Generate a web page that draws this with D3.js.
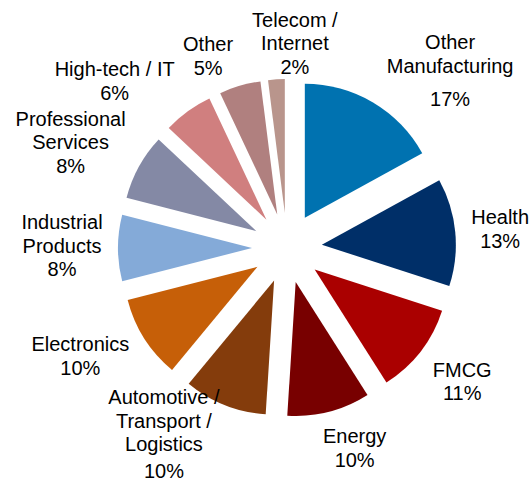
<!DOCTYPE html>
<html>
<head>
<meta charset="utf-8">
<script src="https://cdn.jsdelivr.net/npm/d3@7"></script>
<style>
  html, body { margin: 0; padding: 0; background: #fff; }
  svg { display: block; }
  text { font-family: "Liberation Sans", Arial, sans-serif; font-size: 20px; fill: #000; }
</style>
</head>
<body>
<div id="chart"></div>
<script>
// Sector shares (%), clockwise from 12 o'clock
const sectors = [
  "Other\nManufacturing", "Health", "FMCG", "Energy",
  "Automotive /\nTransport /\nLogistics", "Electronics", "Industrial\nProducts",
  "Professional\nServices", "High-tech / IT", "Other", "Telecom /\nInternet"
];
const shares = [17, 13, 11, 10, 10, 10, 8, 8, 6, 5, 2];
const colors = [
  "#0072B0", "#002F68", "#AA0000", "#780000", "#843C0C", "#C65F08",
  "#84AAD8", "#8489A5", "#D07F7F", "#B0807F", "#B9958C"
];

// Label placement: angular shift (deg) from the slice's mid-angle, distance from centre,
// and extra gap before the percentage line
const labelShift = [12.0, 0.3, -0.6, -4.3, 11.9, 4.9, 0.6, -2.7, -9.9, -6.1, 5.8];
const labelDist  = [241, 214, 220, 211, 223, 233, 225, 241, 240, 208, 205];
const pctGap     = [10, 0, 0, 0, 3, 0, 0, 0, 0, 0, 0];

const W = 532, H = 484;
const cx = 287, cy = 248;
const radius = 134, explode = 35;
const lineH = 23.5, capH = 14.5;

const svg = d3.select("#chart").append("svg")
  .attr("width", W).attr("height", H);

const g = svg.append("g").attr("transform", `translate(${cx},${cy})`);

const data = sectors.map((name, i) => ({ name, value: shares[i], color: colors[i], i }));

const pie = d3.pie().value(d => d.value).sort(null).startAngle(0).endAngle(2 * Math.PI);
const arc = d3.arc().innerRadius(0).outerRadius(radius);
const arcs = pie(data);

// Exploded slices
g.selectAll("path.slice")
  .data(arcs)
  .join("path")
  .attr("class", "slice")
  .attr("d", arc)
  .attr("fill", d => d.data.color)
  .attr("transform", d => {
    const m = (d.startAngle + d.endAngle) / 2;
    return `translate(${Math.sin(m) * explode},${-Math.cos(m) * explode})`;
  });

// Category + percentage labels
const labels = g.selectAll("text.lbl")
  .data(arcs)
  .join("text")
  .attr("class", "lbl")
  .attr("text-anchor", "middle");

labels.each(function(d) {
  const i = d.data.i;
  const m = (d.startAngle + d.endAngle) / 2 + labelShift[i] * Math.PI / 180;
  const x = Math.sin(m) * labelDist[i];
  const y = -Math.cos(m) * labelDist[i];
  const lines = d.data.name.split("\n").concat([d3.format("d")(d.data.value) + "%"]);
  const n = lines.length;
  const blockH = capH + (n - 1) * lineH + pctGap[i];
  const firstBase = y - blockH / 2 + capH;
  const t = d3.select(this);
  lines.forEach((ln, k) => {
    const extra = (k === n - 1) ? pctGap[i] : 0;
    t.append("tspan")
      .attr("x", x)
      .attr("y", firstBase + k * lineH + extra)
      .text(ln);
  });
});
</script>
</body>
</html>
